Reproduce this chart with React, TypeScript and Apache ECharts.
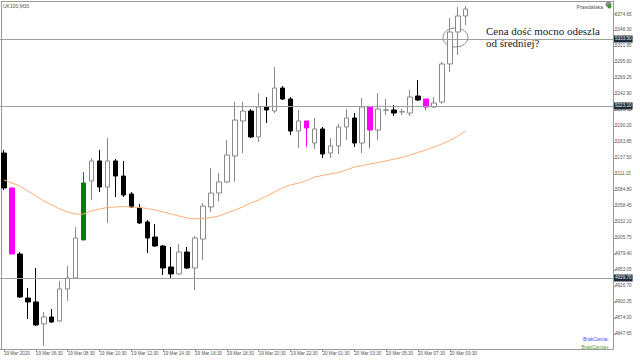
import React, { useEffect, useRef } from 'react';
import * as echarts from 'echarts';

const timeLabels = [
  '19 Mar 2020', '19 Mar 06:30', '19 Mar 08:30', '19 Mar 10:30', '19 Mar 12:30',
  '19 Mar 14:30', '19 Mar 16:30', '19 Mar 18:30', '19 Mar 20:30', '19 Mar 22:30',
  '20 Mar 01:30', '20 Mar 03:30', '20 Mar 05:30', '20 Mar 07:30', '20 Mar 09:30',
];

const candleOpen = [
  5145.6, 5088.0, 4979.2, 4906.7, 4900.2, 4863.9, 4875.4, 4868.9, 4921.6, 4939.7,
  5002.3, 5099.5, 5132.5, 5089.6, 5132.5, 5107.7, 5078.1, 5055.0, 5032.0, 5007.2,
  4992.4, 4957.8, 4946.3, 4982.5, 4956.2, 5003.9, 5056.7, 5079.7, 5097.9, 5140.7,
  5198.4, 5214.8, 5172.0, 5221.4, 5214.8, 5252.7, 5234.6, 5181.9, 5198.4, 5162.1,
  5185.2, 5145.6, 5157.2, 5188.5, 5203.3, 5162.1, 5221.4, 5183.5, 5216.2, 5216.5,
  5213.2, 5211.5, 5239.5, 5234.6, 5221.4, 5229.7, 5292.3, 5345.0, 5371.4,
];
const candleClose = [
  5088.0, 4979.2, 4908.4, 4900.2, 4862.3, 4875.4, 4867.2, 4921.6, 4939.7, 5005.6,
  5096.2, 5132.5, 5089.6, 5132.5, 5107.7, 5076.4, 5056.7, 5030.3, 5005.6, 4992.4,
  4956.2, 4946.3, 4982.5, 4956.2, 5005.6, 5058.3, 5079.7, 5097.9, 5142.3, 5200.0,
  5214.8, 5172.0, 5221.4, 5216.5, 5252.7, 5234.6, 5181.9, 5198.4, 5186.8, 5185.2,
  5144.0, 5157.2, 5188.5, 5203.3, 5162.1, 5221.4, 5183.5, 5218.1, 5216.7, 5211.5,
  5213.7, 5237.9, 5233.0, 5221.4, 5228.0, 5292.3, 5345.0, 5371.4, 5382.9,
];
const candleLow = [
  5084.7, 4979.2, 4906.7, 4872.1, 4860.6, 4827.7, 4865.6, 4867.2, 4901.8, 4938.0,
  5002.3, 5068.2, 5081.4, 5030.3, 5073.1, 5073.1, 5055.0, 5028.7, 4980.9, 4990.8,
  4944.6, 4939.7, 4944.6, 4954.5, 4919.9, 4969.3, 5048.4, 5066.6, 5096.2, 5097.9,
  5145.6, 5170.3, 5163.8, 5195.1, 5211.5, 5233.0, 5175.3, 5153.9, 5155.5, 5152.2,
  5137.4, 5137.4, 5144.0, 5167.1, 5155.5, 5145.6, 5153.9, 5167.1, 5208.2, 5206.6,
  5208.2, 5206.6, 5231.3, 5216.5, 5219.8, 5226.4, 5279.1, 5307.1, 5356.5,
];
const candleHigh = [
  5150.6, 5088.0, 4982.5, 4923.2, 4956.2, 4883.7, 4888.6, 4934.8, 4959.5, 5023.7,
  5114.3, 5137.4, 5150.6, 5170.3, 5135.7, 5132.5, 5081.4, 5061.6, 5035.3, 5028.7,
  4994.1, 4990.8, 4995.7, 4990.8, 5008.9, 5063.3, 5120.9, 5112.7, 5167.1, 5229.7,
  5229.7, 5218.1, 5244.5, 5237.9, 5287.3, 5256.0, 5237.9, 5216.5, 5198.4, 5203.3,
  5188.5, 5170.3, 5193.4, 5218.1, 5211.5, 5236.2, 5221.4, 5244.5, 5234.6, 5224.7,
  5218.1, 5249.4, 5265.9, 5234.6, 5237.9, 5295.6, 5368.0, 5386.2, 5387.8,
];
const maValues = [
  5101.1, 5096.2, 5091.3, 5083.0, 5074.8, 5066.6, 5060.0, 5053.4, 5048.4, 5045.1,
  5045.1, 5050.1, 5053.4, 5055.8, 5056.7, 5057.5, 5056.7, 5055.8, 5054.2, 5051.7,
  5048.4, 5045.1, 5041.8, 5038.5, 5036.9, 5037.7, 5039.4, 5041.8, 5046.8, 5051.7,
  5056.7, 5063.3, 5068.2, 5074.8, 5081.4, 5088.0, 5092.9, 5096.2, 5100.3, 5106.1,
  5108.6, 5111.0, 5113.5, 5117.6, 5122.6, 5125.0, 5127.5, 5130.0, 5132.5, 5135.7,
  5138.2, 5142.3, 5146.5, 5150.6, 5155.5, 5160.5, 5166.2, 5173.6, 5181.9,
];
const yTickValues = [
  4847.65, 4874.0, 4900.35, 4926.7, 4953.05, 4979.4, 5005.75, 5032.1, 5058.45, 5084.8,
  5111.15, 5137.5, 5163.85, 5190.2, 5216.55, 5242.9, 5269.25, 5295.6, 5321.95, 5348.3,
  5374.65,
];
const hLineValues = [5333.5, 5223.1, 4939.7];
const SLOTS = 77;
const LABEL_EVERY = 4;

const SMALL_FONT = '"Liberation Sans", Arial, sans-serif';

export default function App() {
  const ref = useRef<HTMLDivElement>(null);
  useEffect(() => {
    const chart = echarts.init(ref.current!, null, { renderer: 'svg' });
    const categories = Array.from({ length: SLOTS }, (_, i) => String(i));
    const magenta = '#ff00ff';
    const green = '#008000';
    const candleData = candleOpen.map((o, i) => {
      const c = candleClose[i];
      const l = candleLow[i];
      const h = candleHigh[i];
      const item: any = { value: [o, c, l, h] };
      if (c < o && h === o) {
        item.itemStyle = { color: magenta, color0: magenta, borderColor: magenta, borderColor0: magenta };
      } else if (c > o && l === o) {
        item.itemStyle = { color: green, color0: green, borderColor: green, borderColor0: green };
      }
      return item;
    });
    const showTick = (idx: number) => idx % LABEL_EVERY === 0 && idx / LABEL_EVERY < timeLabels.length;

    chart.setOption({
      animation: false,
      backgroundColor: '#ffffff',
      grid: { left: -3, right: 27, top: 1, bottom: 11, containLabel: false },
      xAxis: {
        type: 'category',
        data: categories,
        boundaryGap: true,
        axisLine: { show: true, lineStyle: { color: '#999999', width: 1 } },
        axisTick: {
          show: true,
          alignWithLabel: true,
          length: 3,
          interval: (idx: number) => showTick(idx),
          lineStyle: { color: '#999999' },
        },
        axisLabel: {
          show: true,
          interval: (idx: number) => showTick(idx),
          formatter: (_v: string, idx: number) => timeLabels[idx / LABEL_EVERY] ?? '',
          align: 'left',
          margin: 2,
          fontSize: 4.6,
          fontFamily: SMALL_FONT,
          color: '#555555',
        },
        splitLine: { show: false },
      },
      yAxis: {
        type: 'value',
        position: 'right',
        min: 4822.7,
        max: 5396.07,
        scale: true,
        axisLine: { show: true, lineStyle: { color: '#999999', width: 1 } },
        axisTick: { show: true, length: 3, customValues: yTickValues, lineStyle: { color: '#999999' } },
        axisLabel: {
          show: true,
          customValues: yTickValues,
          formatter: (v: number) => v.toFixed(2),
          margin: 2,
          fontSize: 4.6,
          fontFamily: SMALL_FONT,
          color: '#555555',
        },
        splitLine: { show: false },
      },
      series: [
        {
          type: 'candlestick',
          data: candleData,
          barWidth: 5,
          itemStyle: {
            color: '#ffffff',
            color0: '#000000',
            borderColor: '#8a8a8a',
            borderColor0: '#000000',
            borderWidth: 1,
          },
          markLine: {
            silent: true,
            symbol: ['none', 'none'],
            lineStyle: { color: '#a0a0a0', width: 1, type: 'solid' },
            label: {
              show: true,
              position: 'end',
              distance: 1,
              formatter: (p: any) => Number(p.value).toFixed(2),
              backgroundColor: '#1d2b38',
              color: '#e8eef4',
              fontSize: 4.6,
              fontFamily: SMALL_FONT,
              padding: [1, 1, 1, 1],
            },
            data: hLineValues.map((v) => ({ yAxis: v })),
          },
        },
        {
          type: 'line',
          data: maValues,
          showSymbol: false,
          symbol: 'none',
          lineStyle: { color: '#fcae78', width: 1 },
        },
      ],
      graphic: [
        { type: 'line', shape: { x1: 1.5, y1: 1, x2: 1.5, y2: 349 }, style: { stroke: '#999999', lineWidth: 1 } },
        { type: 'line', shape: { x1: 1, y1: 1.5, x2: 613, y2: 1.5 }, style: { stroke: '#999999', lineWidth: 1 } },
        {
          type: 'ellipse',
          shape: { cx: 455.5, cy: 37.5, rx: 12.5, ry: 9.5 },
          style: { fill: 'none', stroke: '#888888', lineWidth: 1 },
        },
        {
          type: 'text',
          x: 486,
          y: 25,
          style: {
            text: 'Cena dość mocno odeszla\nod średniej?',
            font: '11px "Liberation Serif", "Times New Roman", serif',
            lineHeight: 12,
            fill: '#222222',
          },
        },
        {
          type: 'text',
          x: 3,
          y: 3,
          style: { text: 'UK100,M30', font: `5px ${SMALL_FONT}`, fill: '#555555' },
        },
        {
          type: 'text',
          x: 603,
          y: 4,
          style: { text: 'Prawdafaka', font: `5px ${SMALL_FONT}`, fill: '#555555', align: 'right' },
        },
        { type: 'circle', shape: { cx: 608.5, cy: 4.5, r: 3 }, style: { fill: '#8a8a8a' } },
        { type: 'circle', shape: { cx: 609.5, cy: 6.5, r: 2 }, style: { fill: '#3c9a3c' } },
        {
          type: 'text',
          x: 609,
          y: 336,
          style: { text: 'BrakCienia-', font: `5px ${SMALL_FONT}`, fill: '#4b4bff', align: 'right' },
        },
        {
          type: 'text',
          x: 609,
          y: 344.5,
          style: { text: 'BrakCienia+', font: `5px ${SMALL_FONT}`, fill: '#5a9a2a', align: 'right' },
        },
      ],
    });
    return () => chart.dispose();
  }, []);
  return <div ref={ref} style={{ position: 'absolute', left: 0, top: 0, width: 640, height: 360 }} />;
}
